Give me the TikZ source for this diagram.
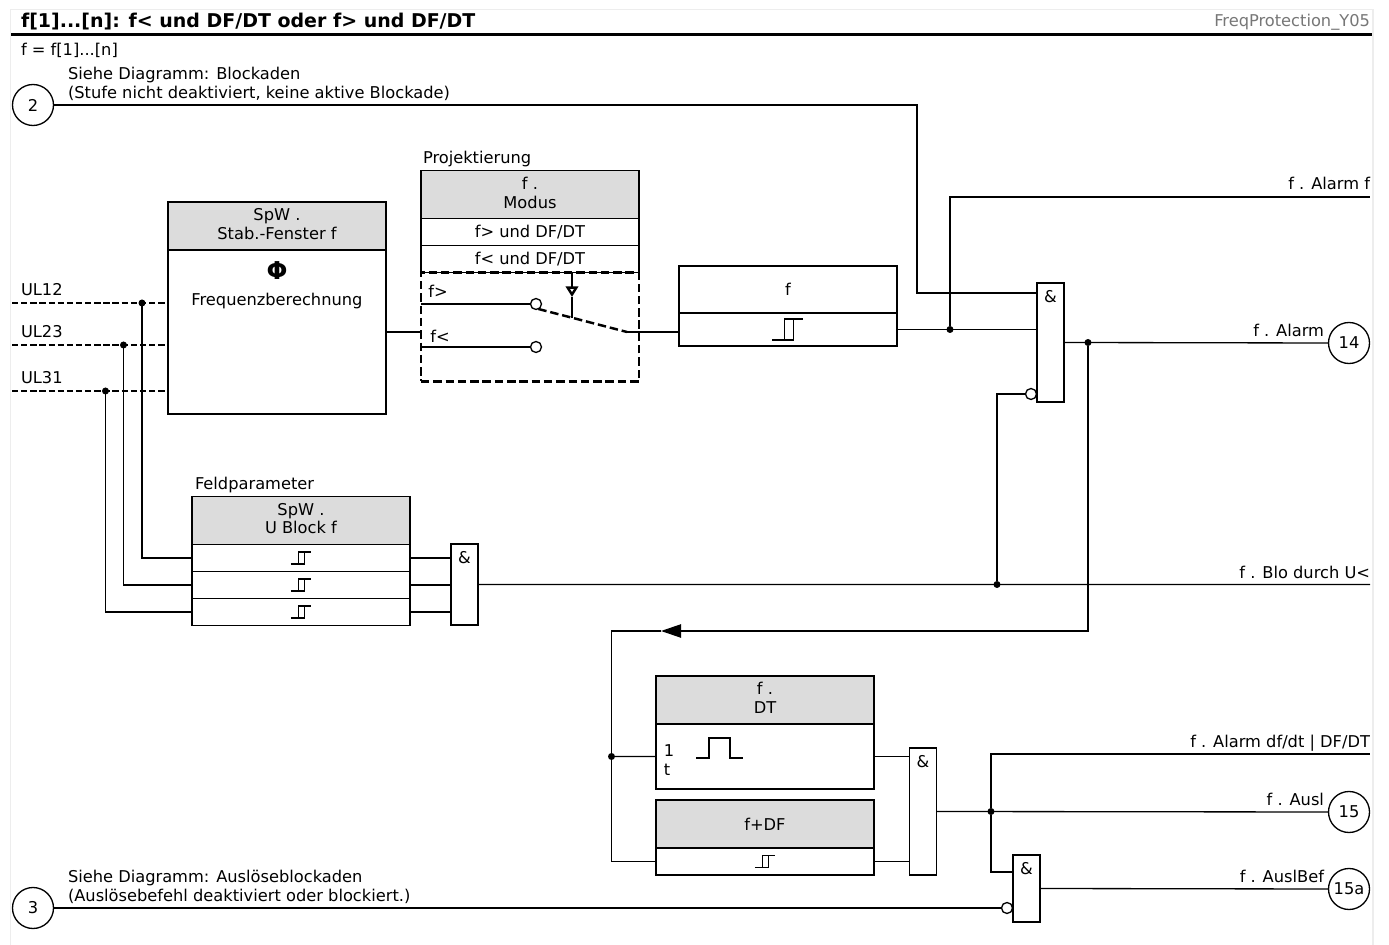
\documentclass[tikz,border=0pt]{standalone}
\usepackage{fontspec}
\setmainfont{DejaVu Sans}
\usetikzlibrary{positioning}
\usetikzlibrary{calc}
\usetikzlibrary{arrows.meta}

\definecolor{headgray}{HTML}{DCDCDC}
\definecolor{framegray}{HTML}{EDEDED}
\definecolor{idgray}{HTML}{777777}

\tikzset{
    every node/.style={inner sep=0pt, outer sep=0pt, font=\fontsize{9.25}{10.8}\selectfont},
    wire/.style={line width=0.75pt},
    sensewire/.style={wire, dash pattern=on 3.6pt off 1.6pt},
    heavywire/.style={line width=1.4pt},
    switchwire/.style={heavywire, dash pattern=on 4.8pt off 2.2pt},
    head/.style={draw, wire, fill=headgray, minimum width=4.36cm, minimum height=0.96cm, align=center},
    headtwo/.style={head, text depth=2.3pt},
    rowbox/.style={draw, wire, fill=white, minimum width=4.36cm, minimum height=0.54cm, align=center},
    term/.style={draw, wire, circle, minimum size=0.82cm},
    junction/.style={circle, fill=black, minimum size=0.14cm},
    contact/.style={draw, wire, circle, fill=white, minimum size=0.22cm},
    andgate/.style={draw, wire, fill=white, minimum width=0.54cm, label={[yshift=-0.15cm, anchor=north]north:\&}},
    pics/hysteresis/.style={code={
        \draw[wire] (-10,6) -- (3.7,6) -- (3.7,-6) -- (-2.3,-6) -- (-2.3,6);
        \draw[wire] (3.7,-6) -- (10,-6);
    }},
}

\begin{document}
\begin{tikzpicture}[x=0.02cm, y=-0.02cm]
    \useasboundingbox[fill=white] (0,0) rectangle (1389,945);

    \draw[framegray, line width=1pt] (10.5,945) -- (10.5,9.5) -- (1373,9.5) -- (1373,945);
    \coordinate (ruleleft) at (11,34.5);
    \coordinate (ruleright) at (1372,34.5);
    \draw[line width=1.2pt] (ruleleft) -- (ruleright);

    \node[anchor=west, font=\fontsize{10.8}{12}\selectfont\bfseries] (title) at (21,21.5) {f[1]...[n]: f< und DF/DT oder f> und DF/DT};
    \node[anchor=east, text=idgray] (diagramid) at (1370,22) {FreqProtection\_Y05};
    \node[anchor=west] (scopenote) at (21,50.5) {f = f[1]...[n]};

    \node[term] (t2) at (33,105) {2};
    \node[term] (t3) at (33,908) {3};
    \node[term] (t14) at (1349,343) {14};
    \node[term] (t15) at (1349,812) {15};
    \node[term] (t15a) at (1349,889) {15a};

    \node[anchor=west, align=left] (blocknote) at (68,84) {Siehe Diagramm: Blockaden\\(Stufe nicht deaktiviert, keine aktive Blockade)};
    \node[anchor=west, align=left] (tripnote) at (68,887) {Siehe Diagramm: Auslöseblockaden\\(Auslösebefehl deaktiviert oder blockiert.)};

    \node[headtwo, anchor=north west] (spwhead) at (168,202) {SpW .\\Stab.-Fenster f};
    \node[rowbox, minimum height=3.28cm, below=0cm of spwhead] (spwbody) {};
    \node[below=0.24cm of spwhead, font=\fontsize{14}{14}\selectfont\bfseries] (phisym) {Φ};
    \node[below=0.86cm of spwhead] (freqtext) {Frequenzberechnung};

    \node[headtwo, anchor=north west] (modushead) at (421,170.5) {f .\\Modus};
    \node[rowbox, below=0cm of modushead] (modusgt) {f> und DF/DT};
    \node[rowbox, below=0cm of modusgt] (moduslt) {f< und DF/DT};
    \node[above right=0.08cm and 0.04cm of modushead.north west] (modustitle) {Projektierung};
    \node[draw, switchwire, minimum width=4.36cm, minimum height=2.18cm, below=0cm of moduslt] (swbox) {};

    \node[anchor=north west, rowbox, minimum height=0.94cm] (fhead) at (679,266) {f};
    \node[rowbox, minimum height=0.66cm, below=0cm of fhead] (fbody) {};

    \node[headtwo, anchor=north west] (uhead) at (192,496.5) {SpW .\\U Block f};
    \node[rowbox, below=0cm of uhead] (urowa) {};
    \node[rowbox, below=0cm of urowa] (urowb) {};
    \node[rowbox, below=0cm of urowb] (urowc) {};
    \node[above right=0.08cm and 0.06cm of uhead.north west] (utitle) {Feldparameter};

    \node[headtwo, anchor=north west] (dthead) at (656,676) {f .\\DT};
    \node[rowbox, minimum height=1.3cm, below=0cm of dthead] (dtbody) {};
    \node (dtone) at (669,751) {1};
    \node (dttime) at (667,770) {t};

    \node[head, anchor=north west] (dfhead) at (656,800) {f+DF};
    \node[rowbox, below=0cm of dfhead] (dfbody) {};

    \node[andgate, anchor=north west, minimum height=2.38cm] (galarm) at (1037,283) {};
    \node[andgate, anchor=north west, minimum height=1.62cm] (gblock) at (451,544) {};
    \node[andgate, anchor=north west, minimum height=2.54cm] (gdt) at (909.5,748) {};
    \node[andgate, anchor=north west, minimum height=1.34cm] (gtrip) at (1013,855) {};

    \node[contact] (invalarm) at (1031,394) {};
    \node[contact] (invtrip) at (1007,908) {};

    \node[contact] (cgt) at (536,304) {};
    \node[contact] (clt) at (536,347) {};
    \node (fgt) at (438,291) {f>};
    \node (flt) at (440,336) {f<};
    \coordinate (armend) at (627,332);
    \coordinate (armmid) at (572,318);
    \coordinate (acttip) at (572,297);
    \coordinate (acttop) at (572,272);

    \draw[wire] (spwbody.east) -- (spwbody.east -| swbox.west);
    \draw[wire] (cgt.west) -- (cgt.west -| swbox.west);
    \draw[wire] (clt.west) -- (clt.west -| swbox.west);
    \draw[switchwire] (cgt.-65) -- (armend);
    \draw[heavywire, -{Triangle[open, length=6pt, width=7pt]}] (acttop) -- (acttip);
    \draw[heavywire] (acttip) -- (armmid);
    \draw[wire] (armend) -- (armend -| fbody.west);

    \coordinate (ulastart) at (12,303);
    \coordinate (ulbstart) at (12,345);
    \coordinate (ulcstart) at (12,391);
    \node[anchor=west] (ula) at (21,290) {UL12};
    \node[anchor=west] (ulb) at (21,332) {UL23};
    \node[anchor=west] (ulc) at (21,378) {UL31};
    \node[junction] (ja) at (142,303) {};
    \node[junction] (jb) at (123.5,345) {};
    \node[junction] (jc) at (105.5,391) {};
    \draw[sensewire] (ulastart) -- (ulastart -| spwbody.west);
    \draw[sensewire] (ulbstart) -- (ulbstart -| spwbody.west);
    \draw[sensewire] (ulcstart) -- (ulcstart -| spwbody.west);
    \draw[wire] (ja) |- (urowa.west);
    \draw[wire] (jb) |- (urowb.west);
    \draw[wire] (jc) |- (urowc.west);
    \draw[wire] (urowa.east) -- (urowa.east -| gblock.west);
    \draw[wire] (urowb.east) -- (urowb.east -| gblock.west);
    \draw[wire] (urowc.east) -- (urowc.east -| gblock.west);

    \pic at (urowa) {hysteresis};
    \pic at (urowb) {hysteresis};
    \pic at (urowc) {hysteresis};
    \pic at (dfbody) {hysteresis};
    \pic[xscale=1.55, yscale=1.75] at (fbody) {hysteresis};
    \draw[wire] ($(dtbody.west)+(40,1.5)$) -- ++(13,0) -- ++(0,-20) -- ++(21,0) -- ++(0,20) -- ++(13,0);

    \coordinate (bendtop) at (917,293);
    \coordinate (alarmfend) at (1370,197);
    \coordinate (bloend) at (1370,584.5);
    \coordinate (dfdtend) at (1370,754);
    \coordinate (ptrip) at (1013,872);
    \coordinate (looptip) at (661,631);
    \node[junction] (jf) at (950,329.5) {};
    \node[junction] (jalarm) at (1088,342.5) {};
    \node[junction] (jblo) at (997,584.5) {};
    \node[junction] (jloop) at (611.5,756.5) {};
    \node[junction] (jdt) at (991,811.5) {};

    \node[anchor=base east] (alarmf) at (1370,189.7) {f . Alarm f};
    \node[anchor=base east] (alarm) at (1324,336.7) {f . Alarm};
    \node[anchor=base east] (blodurch) at (1370,578.2) {f . Blo durch U<};
    \node[anchor=base east] (alarmdf) at (1370,747.2) {f . Alarm df/dt | DF/DT};
    \node[anchor=base east] (ausl) at (1324,805.7) {f . Ausl};
    \node[anchor=base east] (auslbef) at (1324,882) {f . AuslBef};

    \draw[wire] (t2.east) -| (bendtop) -- (bendtop -| galarm.west);
    \draw[wire] (fbody.east) -- (fbody.east -| galarm.west);
    \draw[wire] (jf) |- (alarmfend);
    \draw[wire] (galarm.east) -- (t14.west);
    \draw[wire] (gblock.east) -- (bloend);
    \draw[wire] (jblo) |- (invalarm.west);
    \draw[wire, -{Triangle[length=11.4pt, width=7.6pt]}] (jalarm) |- (looptip);
    \draw[wire] (looptip) -| (jloop);
    \draw[wire] (jloop) -- (dtbody.west);
    \draw[wire] (jloop) |- (dfbody.west);
    \draw[wire] (dtbody.east) -- (dtbody.east -| gdt.west);
    \draw[wire] (dfbody.east) -- (dfbody.east -| gdt.west);
    \draw[wire] (gdt.east) -- (t15.west);
    \draw[wire] (jdt) |- (dfdtend);
    \draw[wire] (jdt) |- (ptrip);
    \draw[wire] (gtrip.east) -- (t15a.west);
    \draw[wire] (t3.east) -- (invtrip.west);

\end{tikzpicture}
\end{document}
